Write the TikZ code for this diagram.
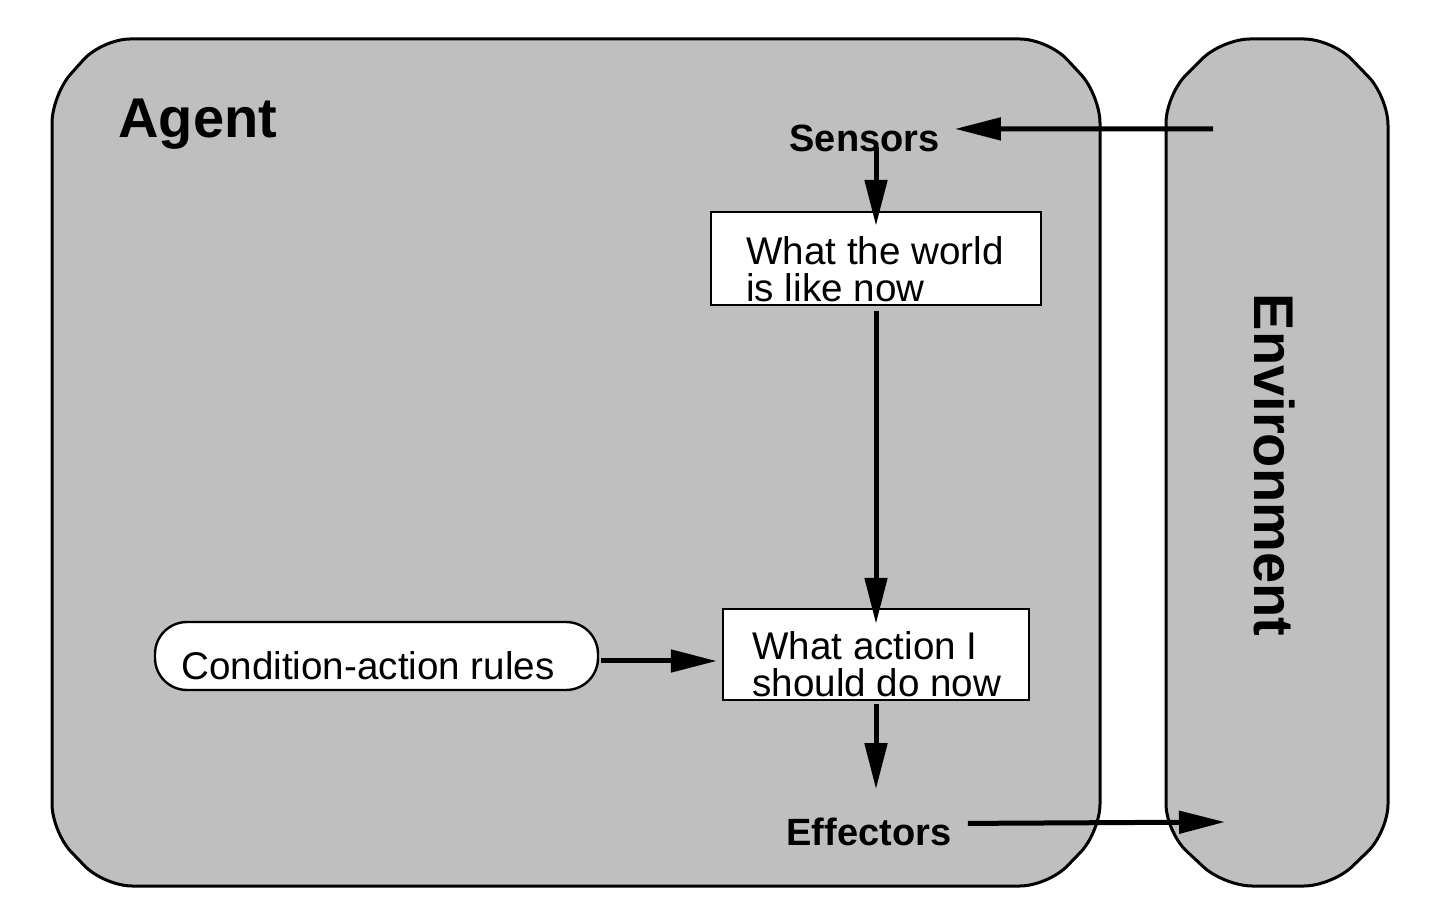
\documentclass[tikz,border=0pt]{standalone}
\usepackage{fontspec}
\setmainfont{Liberation Sans}
\usetikzlibrary{arrows.meta,calc}
\definecolor{panel}{gray}{0.75}
\begin{document}
\begin{tikzpicture}[x=0.5pt,y=-0.5pt,
  arr/.style={line width=2.5pt,-{Triangle[length=23pt,width=11pt]}},
  panelbox/.style={draw=black,line width=1.5pt,fill=panel,rounded corners=14pt},
  whitebox/.style={draw=black,fill=white,line width=1.2pt,inner sep=0pt},
  lbl/.style={font=\fontsize{19}{19}\selectfont\bfseries,inner sep=0pt},
  big/.style={font=\fontsize{28}{28}\selectfont\bfseries,inner sep=0pt},
  boxtext/.style={font=\fontsize{19.3}{18.5}\selectfont,inner sep=0pt,align=left}]
\useasboundingbox (0,0) rectangle (1430,924);
% panels
\draw[panelbox] (52,95) -- (102,39) -- (1048,39) -- (1100,95) -- (1100,832) -- (1048,886) -- (104,886) -- (52,832) -- cycle;
\draw[panelbox] (1166,95) -- (1222,39) -- (1332,39) -- (1388,97) -- (1388,832) -- (1332,886) -- (1224,886) -- (1166,832) -- cycle;
% titles
\node[big,anchor=base west] (agent) at (118,138) {Agent};
\node[big,rotate=-90] (env) at (1275,465) {Environment};
% labels
\node[lbl,anchor=base] (sensors) at (864.5,152) {Sensors};
\node[lbl,anchor=base] (effectors) at (869,845) {Effectors};
% boxes
\node[whitebox,minimum width=165pt,minimum height=46.5pt] (world) at (876,258.5) {};
\node[boxtext,anchor=base west] (worldtext) at (746,302) {What the world\\is like now};
\node[whitebox,minimum width=153pt,minimum height=45.5pt] (action) at (876,654.5) {};
\node[boxtext,anchor=base west] (actiontext) at (752,697) {What action I\\should do now};
\node[whitebox,rounded corners=16pt,minimum width=221.5pt,minimum height=34pt] (rules) at (376.5,656) {};
\node[boxtext,anchor=base west] (rulestext) at (181,680) {Condition-action rules};
% free ends inside the environment
\coordinate (envin) at (1213,129);
\coordinate (envout) at (1225,822);
% connectors
\draw[arr] (envin) -- ($(sensors.east)+(15,-10)$);
\draw[arr] ($(world.north |- sensors.south)+(0,-6)$) -- ($(world.north)+(0,15)$);
\draw[arr] ($(world.south)+(0,5)$) -- ($(action.north)+(0,16)$);
\draw[arr] ($(action.south)+(0,3)$) -- ($(action.south)+(0,88)$);
\draw[arr] ($(rules.east)+(2,5)$) -- ($(action.west)+(-5,6.5)$);
\draw[arr] ($(effectors.east)+(16,-8)$) -- (envout);
\end{tikzpicture}
\end{document}
